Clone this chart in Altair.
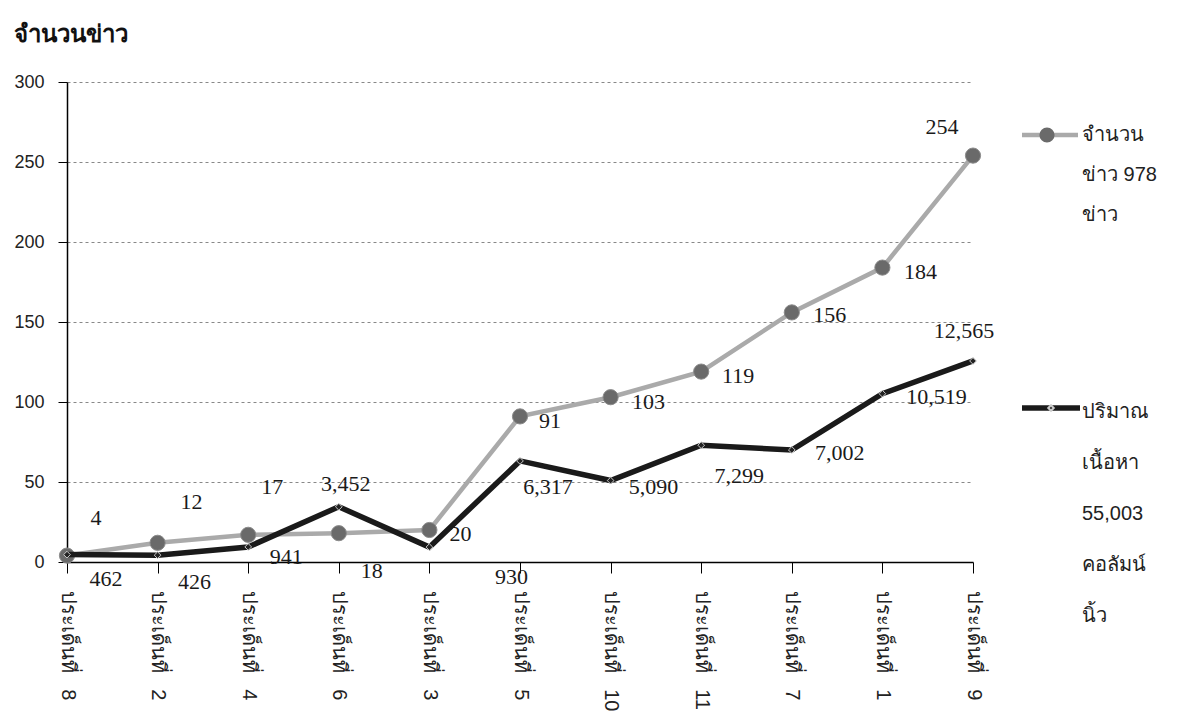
import altair as alt
import pandas as pd

# ---- data ----
categories = ["ประเด็นที่ 8", "ประเด็นที่ 2", "ประเด็นที่ 4", "ประเด็นที่ 6", "ประเด็นที่ 3",
              "ประเด็นที่ 5", "ประเด็นที่ 10", "ประเด็นที่ 11", "ประเด็นที่ 7", "ประเด็นที่ 1",
              "ประเด็นที่ 9"]
news_count = [4, 12, 17, 18, 20, 91, 103, 119, 156, 184, 254]
column_inches = [462, 426, 941, 3452, 930, 6317, 5090, 7299, 7002, 10519, 12565]
series_names = ["จำนวนข่าว 978 ข่าว", "ปริมาณเนื้อหา 55,003 คอลัมน์นิ้ว"]
legend_lines_1 = ["จำนวน", "ข่าว 978", "ข่าว"]
legend_lines_2 = ["ปริมาณ", "เนื้อหา", "55,003", "คอลัมน์", "นิ้ว"]
y_ticks = [0, 50, 100, 150, 200, 250, 300]
column_scale = 100  # column inches are drawn at 1/100 on the same axis
title_text = "จำนวนข่าว"

# ---- layout / label nudges (style, pixels) ----
W, H, YMAX = 906, 480, 300
news_dx = [29, 34, 24, 33, 31, 30, 38, 37, 38, 38, -31]
news_dy = [-38, -41, -48, 38, 4, 5, 5, 4, 3, 4, -29]
col_dx = [39, 37, 38, 7, 82, 28, 43, 38, 48, 54, -9]
col_dy = [24, 27, 10, -23, 30, 26, 6, 31, 3, 3, -30]

rows = []
for i, c in enumerate(categories):
    rows.append(dict(cat=c, series=series_names[0], value=news_count[i],
                     plot_value=news_count[i], label=f"{news_count[i]:,}",
                     dx=news_dx[i], dy=news_dy[i]))
    rows.append(dict(cat=c, series=series_names[1], value=column_inches[i],
                     plot_value=column_inches[i] / column_scale, label=f"{column_inches[i]:,}",
                     dx=col_dx[i], dy=col_dy[i]))
df = pd.DataFrame(rows)

SANS = "Liberation Sans, Arial, Noto Sans, sans-serif"
SERIF = "Liberation Serif, Times New Roman, serif"
NBSP = "\u00a0"

x_enc = alt.X("cat:N", sort=categories,
              scale=alt.Scale(type="point", padding=0),
              axis=alt.Axis(title=None, labelAngle=90, labelAlign="left", labelBaseline="middle",
                            labelFontSize=20, labelFont=SANS, labelColor="#222",
                            labelExpr=f"replace(datum.label, ' ', '{NBSP * 3}')",
                            tickSize=11, tickColor="#000", domainColor="#000", domainWidth=1.5,
                            labelPadding=17, grid=False))
y_scale = alt.Scale(domain=[0, YMAX], nice=False)
y_enc = alt.Y("plot_value:Q", scale=y_scale,
              axis=alt.Axis(title=None, values=y_ticks, labelFontSize=18, labelFont=SANS,
                            labelColor="#222", tickSize=9, tickColor="#000", domainColor="#000",
                            domainWidth=1.5, labelPadding=14, grid=True, gridDash=[3, 3],
                            gridColor="#888", gridWidth=1))

base = alt.Chart(df).encode(x=x_enc, y=y_enc)
news = base.transform_filter(alt.datum.series == series_names[0])
cols = base.transform_filter(alt.datum.series == series_names[1])

news_line = news.mark_line(color="#aaaaaa", strokeWidth=4.5)
news_pts = news.mark_circle(size=230, color="#6a6a6a", opacity=1, stroke="#8a8a8a", strokeWidth=1)
col_line = cols.mark_line(color="#1a1a1a", strokeWidth=5.5)
col_pts = cols.mark_point(shape="diamond", size=45, filled=True, fill="#222",
                          stroke="#cccccc", strokeWidth=1, opacity=1)

labels = alt.Chart(df).transform_calculate(
    label_y=f"datum.plot_value - datum.dy * {YMAX / H}"
).mark_text(font=SERIF, fontSize=22, color="#1a1a1a", baseline="middle").encode(
    x=x_enc,
    y=alt.Y("label_y:Q", scale=y_scale),
    text="label:N",
    xOffset=alt.XOffset("dx:Q", scale=None),
)

one = alt.Data(values=[{"k": 1}])
leg_rule1 = alt.Chart(one).mark_rule(color="#aaaaaa", strokeWidth=4.5).encode(
    x=alt.value(955), x2=alt.value(1011), y=alt.value(53))
leg_pt1 = alt.Chart(one).mark_circle(size=230, color="#6a6a6a", opacity=1).encode(
    x=alt.value(980), y=alt.value(53))
leg_txt1 = alt.Chart(one).mark_text(text=legend_lines_1, font=SANS, fontSize=20, align="left",
                                     baseline="middle", lineHeight=40, color="#222").encode(
    x=alt.value(1015), y=alt.value(53))
leg_rule2 = alt.Chart(one).mark_rule(color="#1a1a1a", strokeWidth=5.5).encode(
    x=alt.value(955), x2=alt.value(1013), y=alt.value(326))
leg_pt2 = alt.Chart(one).mark_point(shape="diamond", size=30, filled=True, fill="#222",
                                    stroke="#cccccc", opacity=1).encode(
    x=alt.value(984), y=alt.value(326))
leg_txt2 = alt.Chart(one).mark_text(text=legend_lines_2, font=SANS, fontSize=20, align="left",
                                     baseline="middle", lineHeight=51, color="#222").encode(
    x=alt.value(1015), y=alt.value(330))

chart = alt.layer(
    news_line, news_pts, col_line, col_pts, labels,
    leg_rule1, leg_pt1, leg_txt1, leg_rule2, leg_pt2, leg_txt2,
).properties(
    width=W, height=H,
    title=alt.TitleParams(title_text, anchor="start", frame="bounds", fontSize=24,
                          fontWeight="bold", font=SANS, color="#111", offset=26),
    padding={"left": 5, "top": 15, "right": 5, "bottom": 5},
).configure_view(stroke=None)

chart.save("out.html", embed_options={"renderer": "svg", "actions": False})
